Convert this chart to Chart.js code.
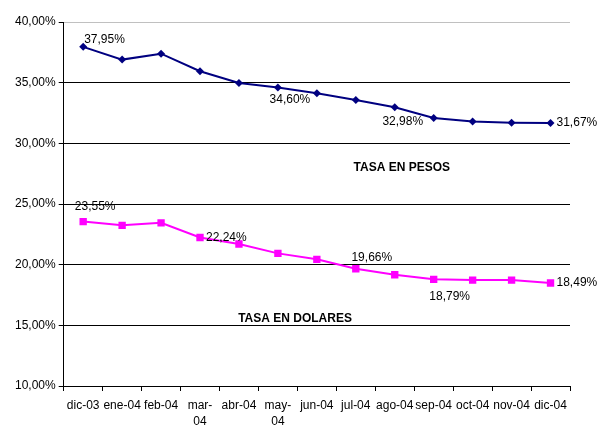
<!DOCTYPE html>
<html>
<head>
<meta charset="utf-8">
<script src="https://cdn.jsdelivr.net/npm/chart.js@4"></script>
<style>
  html, body { margin: 0; padding: 0; background: #fff; }
  #wrap { width: 599px; height: 425px; position: relative; overflow: hidden; }
</style>
</head>
<body>
<div id="wrap"><canvas id="chart" width="599" height="425"></canvas></div>
<script>
// Data
const months = ['dic-03', 'ene-04', 'feb-04', ['mar-', '04'], 'abr-04', ['may-', '04'], 'jun-04', 'jul-04', 'ago-04', 'sep-04', 'oct-04', 'nov-04', 'dic-04'];
const tasaPesos = [37.95, 36.90, 37.39, 35.94, 34.97, 34.60, 34.12, 33.57, 32.98, 32.09, 31.79, 31.70, 31.67];
const tasaDolares = [23.55, 23.24, 23.45, 22.24, 21.70, 20.93, 20.44, 19.66, 19.17, 18.79, 18.73, 18.73, 18.49];
const yTicks = [10, 15, 20, 25, 30, 35, 40];

// which points carry a value label, and where it sits relative to the point
const pesosLabels = { 0: [1, -7, 'left'], 5: [12, 12, 'center'], 8: [8, 15, 'center'], 12: [6, 0, 'left'] };
const dolaresLabels = { 0: [12, -15, 'center'], 3: [6, 0, 'left'], 7: [16, -11, 'center'], 9: [16, 17, 'center'], 12: [6, 0, 'left'] };

const fmt = v => v.toFixed(2).replace('.', ',') + '%';
const FONT = '"Liberation Sans", Arial, sans-serif';

// Draws the selected value labels and the two series titles
const labelPlugin = {
    id: 'valueLabels',
    afterDatasetsDraw(chart) {
        const ctx = chart.ctx;
        ctx.save();
        ctx.font = '12px ' + FONT;
        ctx.fillStyle = '#000';
        ctx.textBaseline = 'middle';
        [pesosLabels, dolaresLabels].forEach((spec, di) => {
            const meta = chart.getDatasetMeta(di);
            const data = chart.data.datasets[di].data;
            for (const idx in spec) {
                const [dx, dy, align] = spec[idx];
                const pt = meta.data[idx];
                ctx.textAlign = align;
                ctx.fillText(fmt(data[idx]), pt.x + dx, pt.y + dy);
            }
        });

        const x = chart.scales.x;
        const y = chart.scales.y;
        const step = x.getPixelForValue(1) - x.getPixelForValue(0);
        ctx.font = 'bold 12px ' + FONT;
        ctx.textAlign = 'center';
        ctx.fillText('TASA EN PESOS', x.getPixelForValue(8) + 0.18 * step, y.getPixelForValue(27.96));
        ctx.fillText('TASA EN DOLARES', x.getPixelForValue(6) - 0.56 * step, y.getPixelForValue(15.55));
        ctx.restore();
    }
};

const ctx = document.getElementById('chart').getContext('2d');
new Chart(ctx, {
    type: 'line',
    data: {
        labels: months,
        datasets: [{
            label: 'Tasa en pesos',
            data: tasaPesos,
            borderColor: '#000080',
            backgroundColor: '#000080',
            borderWidth: 2,
            pointStyle: 'rectRot',
            pointRadius: 4,
            pointBorderWidth: 0,
            tension: 0
        }, {
            label: 'Tasa en dolares',
            data: tasaDolares,
            borderColor: '#FF00FF',
            backgroundColor: '#FF00FF',
            borderWidth: 2,
            pointStyle: 'rect',
            pointRadius: 5.2,
            pointBorderWidth: 0,
            tension: 0
        }]
    },
    options: {
        responsive: false,
        animation: false,
        devicePixelRatio: 1,
        layout: { padding: { top: 22, right: 29, bottom: 0, left: 12 } },
        plugins: {
            legend: { display: false },
            tooltip: { enabled: false }
        },
        scales: {
            x: {
                offset: true,
                afterFit: axis => { axis.height = 39; },
                grid: {
                    offset: true,
                    drawOnChartArea: false,
                    color: '#000',
                    tickLength: 5
                },
                border: { color: '#000', width: 1 },
                ticks: {
                    color: '#000',
                    font: { family: FONT, size: 12, lineHeight: 1.33 },
                    maxRotation: 0,
                    autoSkip: false,
                    padding: 7
                }
            },
            y: {
                min: 10,
                max: 40,
                afterBuildTicks: axis => { axis.ticks = yTicks.map(v => ({ value: v })); },
                grid: {
                    color: ctx => ctx.tick && ctx.tick.value === 40 ? '#c0c0c0' : '#000',
                    tickColor: '#000',
                    tickLength: 5
                },
                border: { color: '#000', width: 1 },
                ticks: {
                    color: '#000',
                    font: { family: FONT, size: 12 },
                    padding: 3,
                    callback: v => fmt(v)
                }
            }
        }
    },
    plugins: [labelPlugin]
});
</script>
</body>
</html>
